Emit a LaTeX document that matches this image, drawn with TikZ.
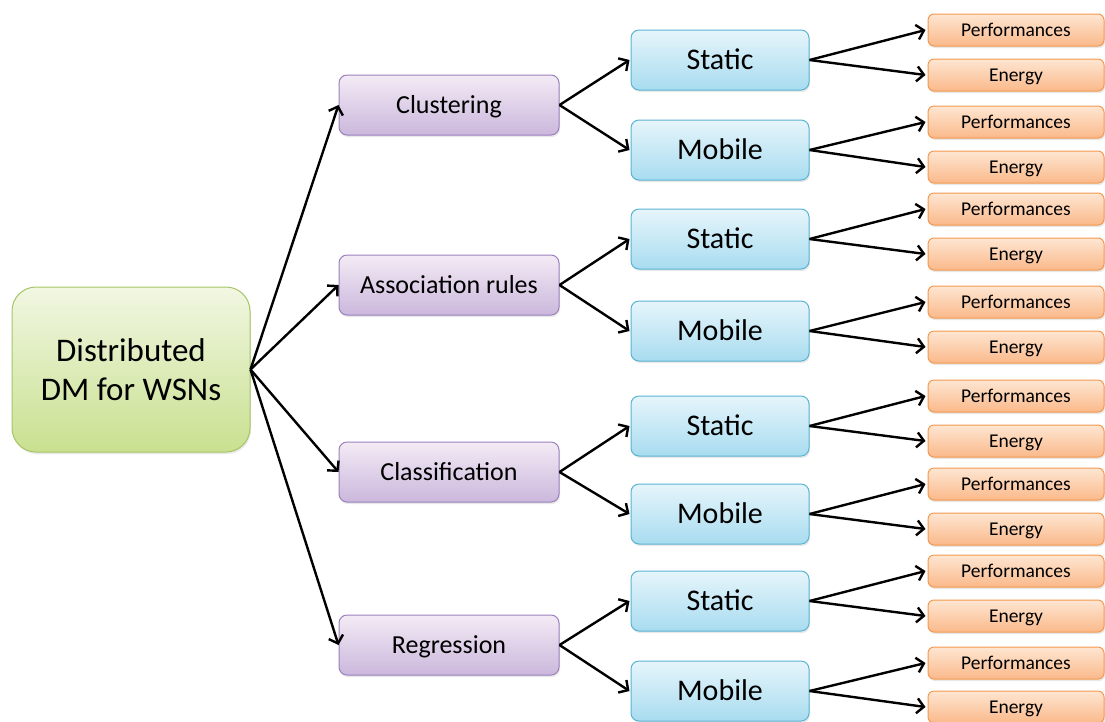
\documentclass[tikz,border=0pt]{standalone}
\usepackage{fontspec}
\setmainfont{Carlito}
\usetikzlibrary{arrows.meta,shadows}

\definecolor{rootTop}{HTML}{F1F7E2}
\definecolor{rootBot}{HTML}{C9E090}
\definecolor{rootLine}{HTML}{A6C565}
\definecolor{purTop}{HTML}{F3EBF5}
\definecolor{purBot}{HTML}{CBB7DC}
\definecolor{purLine}{HTML}{9A80BC}
\definecolor{bluTop}{HTML}{E6F5FB}
\definecolor{bluBot}{HTML}{A8DCF0}
\definecolor{bluLine}{HTML}{5BB3D3}
\definecolor{orgTop}{HTML}{FEE6D2}
\definecolor{orgBot}{HTML}{FAB98A}
\definecolor{orgLine}{HTML}{F2994F}

\tikzset{
  box/.style={rounded corners=8pt, line width=1pt, align=center, inner sep=0pt,
    drop shadow={opacity=0.18, shadow xshift=1pt, shadow yshift=-2pt}},
  rootbox/.style={box, rounded corners=24pt, draw=rootLine, top color=rootTop, bottom color=rootBot,
    minimum width=238pt, minimum height=165pt, font=\fontsize{33}{39}\selectfont},
  methodbox/.style={box, draw=purLine, top color=purTop, bottom color=purBot,
    minimum width=220pt, minimum height=60pt, font=\fontsize{26}{30}\selectfont,
    text height=16.7pt, text depth=0pt},
  nodebox/.style={box, draw=bluLine, top color=bluTop, bottom color=bluBot,
    minimum width=178pt, minimum height=60pt, font=\fontsize{30}{34}\selectfont,
    text height=19.3pt, text depth=0pt},
  metricbox/.style={box, rounded corners=6pt, draw=orgLine, top color=orgTop, bottom color=orgBot,
    minimum width=176pt, minimum height=32pt, font=\fontsize{19.5}{22}\selectfont,
    text height=12.6pt, text depth=0pt},
  link/.style={line width=2.4pt, -{Straight Barb[length=7pt, width=15pt, line width=2.4pt]}}
}

\begin{document}
\begin{tikzpicture}[x=1pt, y=-1pt]
  \useasboundingbox (0,0) rectangle (1105,721);

  \node[rootbox] (root) at (131,369.5) {Distributed\\DM for WSNs};

  \node[methodbox] (m1) at (449,105) {Clustering};
  \node[methodbox] (m2) at (449,285) {Association rules};
  \node[methodbox] (m3) at (449,472) {Classification};
  \node[methodbox] (m4) at (449,645) {Regression};

  \foreach \m in {1,...,4} \draw[link] (root.east) -- (m\m.west);

  % second level: static / mobile for each method
  \foreach \m/\ys/\ym in {1/60/150, 2/239/331, 3/426/514, 4/601/691} {
    \node[nodebox] (s\m) at (720,\ys) {Static};
    \node[nodebox] (d\m) at (720,\ym) {Mobile};
    \draw[link] (m\m.east) -- ([xshift=-1pt]s\m.west);
    \draw[link] (m\m.east) -- ([xshift=-1pt]d\m.west);
  }

  % third level: performances / energy
  \foreach \n/\src/\yp/\ye in {1/s1/30/75, 2/d1/122/167, 3/s2/209/254, 4/d2/302/347,
                               5/s3/396/441, 6/d3/484/529, 7/s4/571/616, 8/d4/663/707} {
    \node[metricbox] (p\n) at (1016,\yp) {Performances};
    \node[metricbox] (e\n) at (1016,\ye) {Energy};
    \draw[link] (\src.east) -- ([xshift=-2pt]p\n.west);
    \draw[link] (\src.east) -- ([xshift=-2pt]e\n.west);
  }
\end{tikzpicture}
\end{document}
